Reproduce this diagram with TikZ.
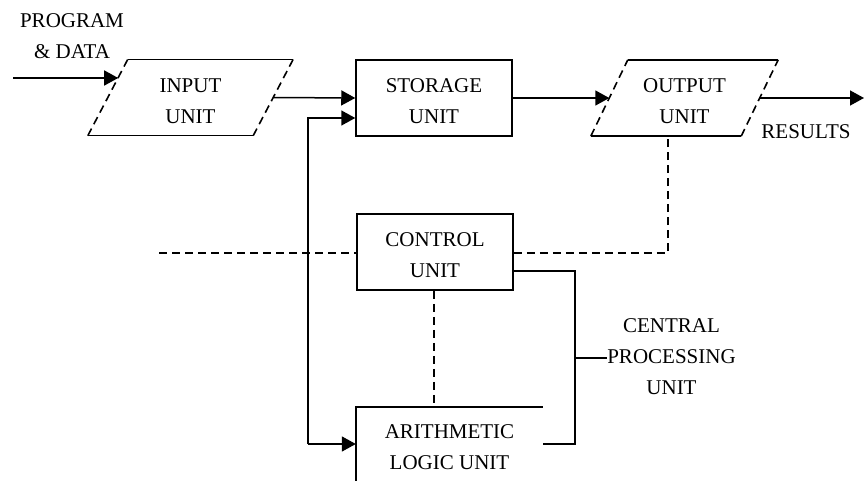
\documentclass[tikz,border=0pt]{standalone}
\usepackage{fontspec}
\setmainfont{Liberation Serif}
\usetikzlibrary{arrows.meta,positioning}

% slanted sides dashed, top and bottom solid
\newcommand{\ioframe}[2]{%
  \draw[edge] ([xshift=#2]#1.north west) -- ([xshift=#2]#1.north east);
  \draw[edge] ([xshift=-#2]#1.south west) -- ([xshift=-#2]#1.south east);
  \draw[dsh] ([xshift=-#2]#1.south west) -- ([xshift=#2]#1.north west);
  \draw[dsh] ([xshift=-#2]#1.south east) -- ([xshift=#2]#1.north east);
}

\begin{document}
\begin{tikzpicture}[
  x=1pt, y=-1pt,
  txt/.style={
    font=\fontsize{21}{31}\selectfont,
    align=center,
    inner sep=0pt
  },
  unit/.style={
    txt,
    text height=52pt
  },
  box/.style={
    unit,
    draw,
    line width=1.5pt,
    minimum width=#1
  },
  io/.style={
    unit,
    minimum width=#1,
    minimum height=76pt
  },
  edge/.style={
    line width=1.5pt
  },
  dsh/.style={
    line width=1.6pt,
    dash pattern=on 8pt off 5pt
  },
  arr/.style={
    -{Triangle[length=14pt,width=15pt]},
    line width=1.5pt
  }
]
\useasboundingbox (0,0) rectangle (865,481);

\node[txt] (prog) at (72,36) {PROGRAM\\\& DATA};
\coordinate (pin) at (13,78);

\node[io=165pt] (inp) at (190.5,97.5) {INPUT\\UNIT};
\node[box=156pt, minimum height=76pt] (stor) at (434,98) {STORAGE\\UNIT};
\node[io=150pt] (out) at (684.5,98) {OUTPUT\\UNIT};

\coordinate (res) at (864,98);
\node[txt] (reslbl) at (806,132) {RESULTS};

\node[box=156pt, minimum height=76pt] (ctrl) at (435,252) {CONTROL\\UNIT};
\node[unit, minimum width=187pt, minimum height=74pt] (alu) at (449.5,444) {ARITHMETIC\\LOGIC UNIT};

\node[txt] (cpu) at (671.5,357) {CENTRAL\\PROCESSING\\UNIT};

\coordinate (dl) at (159,253);
\coordinate (fb) at (308,444);
\coordinate (brk) at (575,358);

\ioframe{inp}{20pt}
\ioframe{out}{18.5pt}
\draw[edge] (alu.south west) -- (alu.north west) -- (alu.north east);

\draw[arr] (pin) -- ([xshift=10.4pt,yshift=19.5pt]inp.west);
\draw[arr] (inp.east) -- (stor.west);
\draw[arr] (stor.east) -- (out.west);
\draw[arr] (out.east) -- (res);

\draw[arr] (fb) |- ([yshift=-20pt]stor.west);
\draw[arr] (fb) -- (alu.west);

\draw[dsh] (dl) -- (dl -| ctrl.west);
\draw[dsh] (dl -| ctrl.east) -| ([xshift=-16.5pt]out.south);
\draw[dsh] (ctrl.south -| 434,0) -- (alu.north -| 434,0);

\draw[edge] ([yshift=-19pt]ctrl.east) -| (brk) |- (alu.east);
\draw[edge] (brk) -- (brk -| cpu.west);

\end{tikzpicture}
\end{document}
